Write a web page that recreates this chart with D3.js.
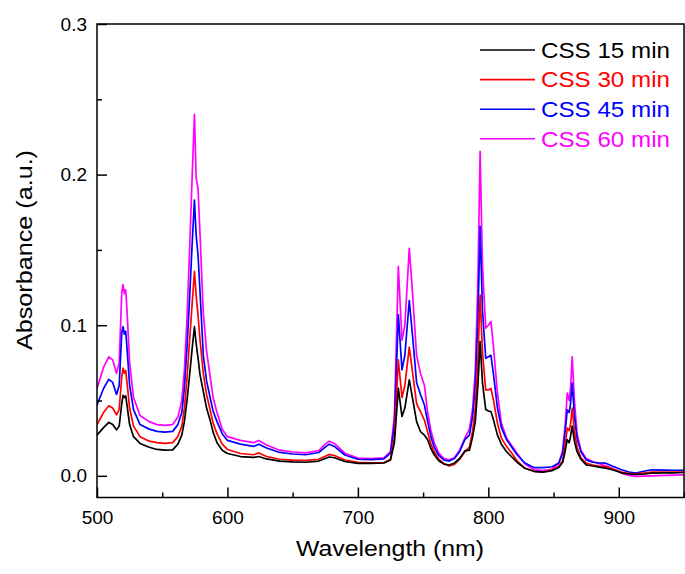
<!DOCTYPE html>
<html>
<head>
<meta charset="utf-8">
<script src="https://cdn.jsdelivr.net/npm/d3@7"></script>
<style>
  body { margin: 0; background: #fff; }
  text { font-family: "Liberation Sans", Arial, sans-serif; }
</style>
</head>
<body>
<svg id="chart"></svg>
<script>
// wavelength (nm)
let wavelength = [500, 505, 509, 512, 515, 517, 519, 520, 521, 522, 523, 525, 528, 533, 540, 546, 552, 558, 562, 565,
  567, 569, 571, 573, 574.7, 576, 577.5, 579, 581.5, 584, 586.7, 589, 592, 596, 600, 610, 620, 624, 630, 640,
  650, 660, 670, 675, 678, 682, 690, 700, 710, 720, 725, 728, 731, 733.8, 736, 739.4, 742, 745, 748, 751,
  753.5, 756, 758.5, 762, 766, 770, 774, 778, 782, 785.5, 788, 790, 792, 793.7, 795.5, 798, 800, 802, 804, 807,
  810, 814, 818, 822, 828, 835, 842, 849, 854, 857, 859, 860.5, 862, 863, 864.3, 866, 868, 871, 875, 880,
  885, 890, 895, 902, 908, 913, 920, 925, 935, 942, 950];

let css15 = [.027, .032, .0355, .034, .0305, .033, .048, .0535, .052, .053, .047, .034, .026, .0215, .019, .0175, .017, .0172, .021, .027,
  .036, .05, .067, .085, .099, .088, .078, .067, .056, .045, .037, .029, .022, .017, .0148, .0128, .0122, .0128, .0112, .0097,
  .0092, .009, .0098, .0115, .0125, .012, .0095, .0082, .0082, .0085, .0105, .022, .058, .0394, .045, .0637, .051, .036, .0294, .027,
  .024, .018, .014, .01, .0078, .0072, .0085, .0115, .0165, .017, .026, .036, .06, .0892, .062, .044, .043, .0427, .037, .027,
  .021, .016, .0125, .009, .005, .003, .0025, .0035, .0055, .009, .017, .024, .022, .026, .033, .023, .016, .011, .0073, .0065,
  .0058, .0051, .004, .002, .0012, .0009, .0012, .0018, .002, .002, .0022];

let css30 = [.034, .042, .0465, .045, .0405, .044, .066, .0715, .068, .07, .062, .045, .033, .026, .023, .022, .0215, .022, .026, .033,
  .045, .065, .09, .115, .1357, .12, .106, .09, .068, .054, .044, .035, .028, .021, .0175, .0148, .014, .0152, .0128, .011,
  .0104, .0102, .011, .013, .0142, .0135, .0105, .009, .0086, .0088, .011, .026, .077, .052, .06, .0855, .068, .048, .0427, .037,
  .029, .021, .016, .011, .008, .0066, .0075, .011, .016, .019, .03, .045, .078, .12, .082, .057, .057, .058, .05, .035,
  .025, .0195, .015, .01, .005, .003, .0025, .004, .006, .01, .021, .0317, .03, .034, .045, .03, .019, .012, .0085, .0072,
  .0065, .006, .0045, .0025, .0015, .0012, .002, .0025, .0025, .0025, .0025];

let css45 = [.047, .058, .064, .062, .054, .06, .095, .099, .094, .096, .085, .06, .044, .034, .031, .0295, .029, .0295, .034, .042,
  .058, .085, .118, .155, .183, .16, .146, .122, .08, .063, .052, .043, .036, .028, .0235, .021, .0195, .021, .0185, .0155,
  .0145, .014, .0155, .019, .021, .0195, .0138, .011, .0108, .0112, .015, .034, .107, .0704, .08, .1164, .092, .062, .054, .047,
  .036, .026, .019, .0135, .0105, .0098, .0115, .016, .024, .027, .04, .06, .105, .1656, .11, .078, .079, .08, .067, .045,
  .032, .024, .019, .014, .0085, .0055, .0055, .006, .0085, .015, .03, .0438, .042, .048, .0615, .04, .025, .016, .0106, .009,
  .0085, .0084, .0065, .004, .0025, .0018, .0032, .004, .0038, .0037, .0037];

let css60 = [.058, .072, .079, .077, .068, .075, .122, .127, .121, .1235, .11, .075, .052, .04, .036, .034, .0335, .034, .039, .05,
  .07, .105, .15, .2, .24, .198, .19, .16, .108, .083, .066, .052, .042, .031, .026, .0235, .022, .0235, .0205, .017,
  .0158, .0152, .0168, .021, .023, .0215, .015, .0118, .0115, .012, .016, .04, .139, .09, .1, .151, .12, .08, .068, .06,
  .042, .03, .022, .015, .0115, .0106, .012, .017, .025, .031, .045, .07, .13, .2154, .14, .098, .1, .1025, .085, .055,
  .035, .025, .02, .015, .008, .004, .0035, .0045, .008, .017, .035, .055, .05, .058, .079, .05, .028, .017, .0115, .0095,
  .008, .0066, .005, .0018, .0002, -.0004, -.0002, 0, .0003, .0005, .0006];

let seriesNames = ["CSS 15 min", "CSS 30 min", "CSS 45 min", "CSS 60 min"];
let seriesColors = ["#000000", "#ff0000", "#0000ff", "#ff00ff"];
let seriesValues = [css15, css30, css45, css60];

let xMajor = [500, 600, 700, 800, 900];
let xMinor = [550, 650, 750, 850, 950];
let yMajor = [0, 0.1, 0.2, 0.3];
let yMinor = [0.05, 0.15, 0.25];

let width = 685;
let height = 574;
let plotLeft = 97, plotRight = 684, plotTop = 24, plotBottom = 497.5;

let svg = d3.select("#chart").attr("width", width).attr("height", height);

let xScale = d3.scaleLinear().domain([500, 950]).range([plotLeft, plotRight]);
let yScale = d3.scaleLinear().domain([-0.0144, 0.3]).range([plotBottom, plotTop]);

// clip so lines stay inside the frame
svg.append("clipPath").attr("id", "clip")
  .append("rect")
  .attr("x", plotLeft).attr("y", plotTop)
  .attr("width", plotRight - plotLeft).attr("height", plotBottom - plotTop);

let line = d3.line()
  .x((d, i) => xScale(wavelength[i]))
  .y((d) => yScale(d));

// 60 min underneath, 15 min on top
let drawOrder = [3, 2, 1, 0];
drawOrder.forEach((k) => {
  svg.append("path")
    .datum(seriesValues[k])
    .attr("clip-path", "url(#clip)")
    .attr("fill", "none")
    .attr("stroke", seriesColors[k])
    .attr("stroke-width", 1.7)
    .attr("stroke-linejoin", "round")
    .attr("d", line);
});

// frame
svg.append("rect")
  .attr("x", plotLeft).attr("y", plotTop)
  .attr("width", plotRight - plotLeft).attr("height", plotBottom - plotTop)
  .attr("fill", "none")
  .attr("stroke", "#000")
  .attr("stroke-width", 1.5);

// axes
let xAxis = d3.axisBottom(xScale).tickValues(xMajor).tickSize(-10).tickPadding(13).tickFormat(d3.format("d"));
let xAxisMinor = d3.axisBottom(xScale).tickValues(xMinor).tickSize(-5).tickFormat("");
let yAxis = d3.axisLeft(yScale).tickValues(yMajor).tickSize(-10).tickPadding(10).tickFormat(d3.format(".1f"));
let yAxisMinor = d3.axisLeft(yScale).tickValues(yMinor).tickSize(-5).tickFormat("");

let styleAxis = (g) => {
  g.select(".domain").remove();
  g.selectAll(".tick line").attr("stroke", "#000").attr("stroke-width", 1.5);
  g.selectAll(".tick text").attr("fill", "#000").style("font-size", "19px")
    .style("font-family", "'Liberation Sans', Arial, sans-serif");
};

svg.append("g").attr("transform", "translate(0," + plotBottom + ")").call(xAxis).call(styleAxis);
svg.append("g").attr("transform", "translate(0," + plotBottom + ")").call(xAxisMinor).call(styleAxis);
svg.append("g").attr("transform", "translate(" + plotLeft + ",0)").call(yAxis).call(styleAxis);
svg.append("g").attr("transform", "translate(" + plotLeft + ",0)").call(yAxisMinor).call(styleAxis);

// axis titles
svg.append("text")
  .attr("x", 390)
  .attr("y", 556)
  .attr("text-anchor", "middle")
  .attr("textLength", 188)
  .attr("lengthAdjust", "spacingAndGlyphs")
  .style("font-size", "22px")
  .text("Wavelength (nm)");

svg.append("text")
  .attr("transform", "translate(32,250) rotate(-90)")
  .attr("text-anchor", "middle")
  .attr("textLength", 200)
  .attr("lengthAdjust", "spacingAndGlyphs")
  .style("font-size", "22px")
  .text("Absorbance (a.u.)");

// legend
let legend = svg.append("g");
seriesNames.forEach((name, i) => {
  let ly = 50 + i * 29.6;
  legend.append("line")
    .attr("x1", 480).attr("x2", 535)
    .attr("y1", ly).attr("y2", ly)
    .attr("stroke", seriesColors[i])
    .attr("stroke-width", 1.6);
  legend.append("text")
    .attr("x", 541)
    .attr("y", ly + 7.8)
    .attr("fill", seriesColors[i])
    .attr("textLength", 129)
    .attr("lengthAdjust", "spacingAndGlyphs")
    .style("font-size", "21.5px")
    .text(name);
});
</script>
</body>
</html>
